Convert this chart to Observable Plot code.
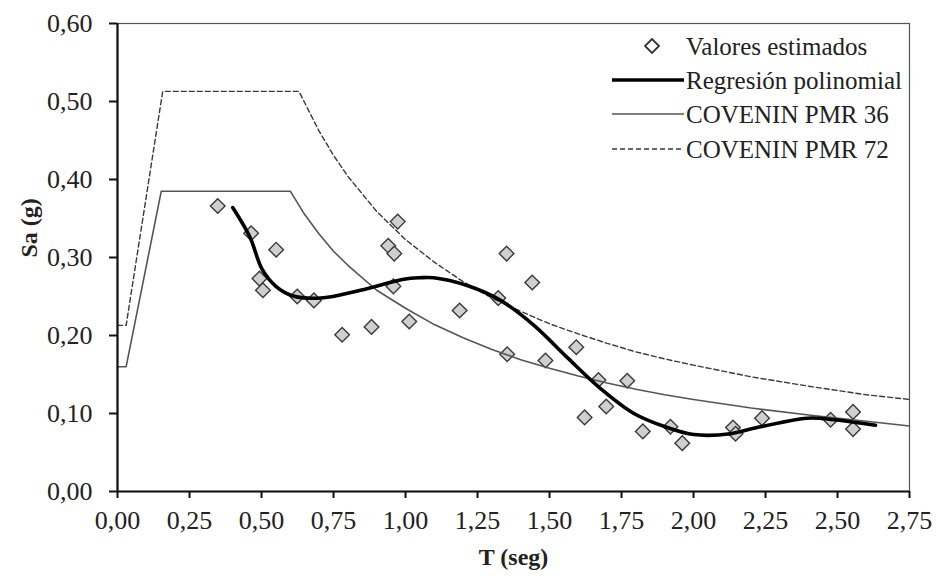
<!DOCTYPE html>
<html>
<head>
<meta charset="utf-8">
<script src="https://cdn.jsdelivr.net/npm/d3@7"></script>
<script src="https://cdn.jsdelivr.net/npm/@observablehq/plot@0.6"></script>
<style>
  html, body { margin: 0; padding: 0; background: #fff; }
  #wrap { position: relative; width: 937px; height: 579px; }
  #wrap svg text { font-family: "Liberation Serif", "Times New Roman", serif; }
</style>
</head>
<body>
<div id="wrap"></div>
<script>
// Estimated values (diamonds)
const estT  = [0.348,0.464,0.493,0.505,0.551,0.624,0.682,0.780,0.882,0.940,0.958,0.961,0.973,1.013,1.188,1.322,1.351,1.353,1.440,1.486,1.593,1.622,1.670,1.697,1.770,1.824,1.920,1.961,2.137,2.146,2.238,2.476,2.554,2.554];
const estSa = [0.366,0.331,0.273,0.258,0.310,0.250,0.245,0.201,0.211,0.315,0.263,0.305,0.346,0.218,0.232,0.248,0.305,0.176,0.268,0.168,0.185,0.095,0.143,0.109,0.142,0.077,0.083,0.062,0.082,0.074,0.094,0.092,0.102,0.080];

// Polynomial regression curve
const regT  = [0.40,0.46,0.502,0.55,0.607,0.705,0.844,0.994,1.05,1.098,1.214,1.330,1.446,1.561,1.677,1.793,1.909,2.001,2.128,2.198,2.395,2.487,2.632];
const regSa = [0.364,0.326,0.285,0.263,0.251,0.248,0.258,0.272,0.274,0.274,0.264,0.245,0.213,0.172,0.132,0.100,0.082,0.073,0.074,0.080,0.094,0.092,0.085];

// COVENIN PMR 36
const c36T  = [0,0.03,0.152,0.60,0.65,0.70,0.75,0.80,0.90,1.00,1.10,1.20,1.30,1.40,1.50,1.60,1.70,1.80,1.90,2.00,2.20,2.40,2.60,2.75];
const c36Sa = [0.160,0.160,0.385,0.385,0.355,0.330,0.308,0.290,0.258,0.235,0.214,0.197,0.182,0.169,0.158,0.148,0.139,0.131,0.124,0.118,0.107,0.098,0.090,0.084];

// COVENIN PMR 72
const c72T  = [0,0.03,0.157,0.63,0.70,0.75,0.80,0.90,1.00,1.10,1.20,1.30,1.40,1.50,1.60,1.70,1.80,1.90,2.00,2.20,2.40,2.60,2.75];
const c72Sa = [0.213,0.213,0.513,0.513,0.462,0.431,0.404,0.359,0.323,0.294,0.269,0.248,0.231,0.215,0.202,0.190,0.179,0.170,0.162,0.147,0.135,0.124,0.118];

const xTicks = [0,0.25,0.5,0.75,1,1.25,1.5,1.75,2,2.25,2.5,2.75];
const yTicks = [0,0.1,0.2,0.3,0.4,0.5,0.6];

const legendLabels = ["Valores estimados","Regresión polinomial","COVENIN PMR 36","COVENIN PMR 72"];

const est = estT.map((t,i) => ({T:t, Sa:estSa[i]}));
const reg = regT.map((t,i) => ({T:t, Sa:regSa[i]}));
const c36 = c36T.map((t,i) => ({T:t, Sa:c36Sa[i]}));
const c72 = c72T.map((t,i) => ({T:t, Sa:c72Sa[i]}));

const fmt = d => d.toFixed(2).replace(".", ",");
const FONT = "Liberation Serif, Times New Roman, serif";

const chart = Plot.plot({
  width: 937,
  height: 579,
  marginLeft: 117,
  marginRight: 28,
  marginTop: 23,
  marginBottom: 88,
  style: {fontFamily: FONT, background: "#fff", color: "#222"},
  x: {domain: [0, 2.75], ticks: xTicks, tickFormat: fmt},
  y: {domain: [0, 0.6], ticks: yTicks, tickFormat: fmt},
  marks: [
    Plot.frame({stroke: "#555", strokeWidth: 1.2}),
    Plot.axisX({ticks: xTicks, tickFormat: fmt, tickSize: 7, tickPadding: 12, fontSize: 26, label: null, stroke: "#111", strokeWidth: 2}),
    Plot.axisY({ticks: yTicks, tickFormat: fmt, tickSize: 8, tickPadding: 17, fontSize: 26, label: null, stroke: "#111", strokeWidth: 2}),
    Plot.dot(est, {x: "T", y: "Sa", symbol: "diamond2", r: 6.6, fill: "#cfcfcf", stroke: "#3a3a3a", strokeWidth: 1.4}),
    Plot.line(c72, {x: "T", y: "Sa", stroke: "#3a3a3a", strokeWidth: 1.4, strokeDasharray: "5,3"}),
    Plot.line(c36, {x: "T", y: "Sa", stroke: "#555", strokeWidth: 1.6}),
    Plot.line(reg, {x: "T", y: "Sa", curve: "catmull-rom", stroke: "#000", strokeWidth: 3.6}),
    Plot.ruleY([0], {stroke: "#111", strokeWidth: 2.2}),
    Plot.ruleX([0], {stroke: "#111", strokeWidth: 2.2}),
    Plot.text(["T (seg)"], {frameAnchor: "bottom", dy: 73, fontSize: 24, fontWeight: "bold", fill: "#222"}),
    Plot.text(["Sa (g)"], {frameAnchor: "left", dx: -88, rotate: -90, fontSize: 24, fontWeight: "bold", fill: "#222"})
  ]
});

const wrap = document.getElementById("wrap");
wrap.appendChild(chart);

// Legend overlay (inside the plot area, top-right)
const lg = d3.create("svg").attr("width", 937).attr("height", 579)
  .style("position", "absolute").style("left", "0px").style("top", "0px");
const rowsY = [46, 80, 114, 149];
const textX = 686;
lg.append("path").attr("d", "M652,39 L659,46 L652,53 L645,46 Z")
  .attr("fill", "#fff").attr("stroke", "#333").attr("stroke-width", 1.8);
lg.append("line").attr("x1", 612).attr("x2", 684).attr("y1", rowsY[1]).attr("y2", rowsY[1])
  .attr("stroke", "#000").attr("stroke-width", 3.6);
lg.append("line").attr("x1", 612).attr("x2", 684).attr("y1", rowsY[2]).attr("y2", rowsY[2])
  .attr("stroke", "#555").attr("stroke-width", 1.6);
lg.append("line").attr("x1", 612).attr("x2", 684).attr("y1", rowsY[3]).attr("y2", rowsY[3])
  .attr("stroke", "#3a3a3a").attr("stroke-width", 1.4).attr("stroke-dasharray", "5,3");
legendLabels.forEach((t, i) => {
  lg.append("text").attr("x", textX).attr("y", rowsY[i]).attr("dy", "0.35em")
    .attr("font-size", 25).attr("fill", "#222").text(t);
});
wrap.appendChild(lg.node());
</script>
</body>
</html>
